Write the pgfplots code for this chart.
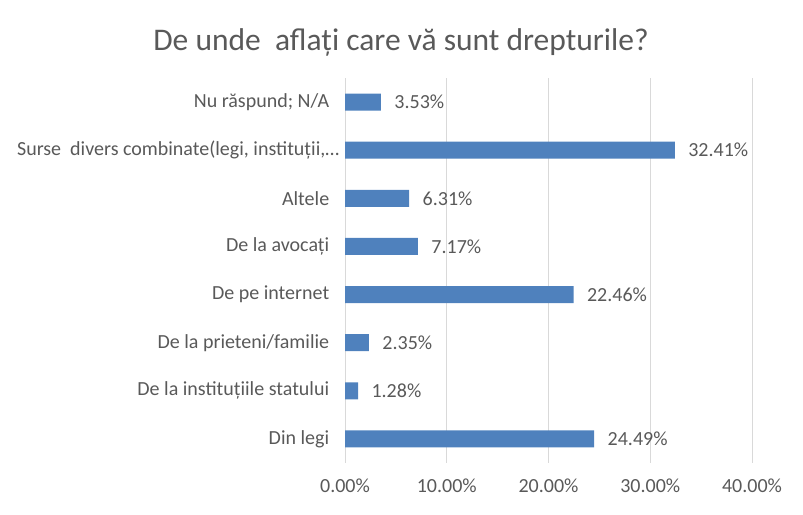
\documentclass[border=0pt]{standalone}
\usepackage{pgfplots}
\pgfplotsset{compat=1.18}
\usepackage{fontspec}
\setmainfont{Carlito}
\definecolor{barblue}{HTML}{4F81BD}
\definecolor{txtgray}{HTML}{595959}
\definecolor{gridgray}{HTML}{D9D9D9}

\pgfplotstableread[col sep=comma]{
pos,val
0,24.49
1,1.28
2,2.35
3,22.46
4,7.17
5,6.31
6,32.41
7,3.53
}\sources

\begin{document}
\begin{tikzpicture}[x=1pt,y=1pt]
\useasboundingbox (0,0) rectangle (803,514);
\begin{axis}[
  at={(345pt,51pt)}, anchor=south west,
  scale only axis, width=407pt, height=385pt,
  xmin=0, xmax=40, ymin=-0.5, ymax=7.5,
  xbar, bar width=17pt, bar shift=0pt,
  axis line style={draw=none},
  xmajorgrids, grid style={gridgray, line width=1pt},
  xtick={0,10,20,30,40},
  xticklabels={0.00\%,10.00\%,20.00\%,30.00\%,40.00\%},
  xtick style={draw=none},
  ytick={0,...,7},
  yticklabels={Din legi, De la instituțiile statului, De la prieteni/familie, De pe internet, De la avocați, Altele, {Surse\ \ divers combinate(legi, instituții,\dots\hspace*{-10pt}}, Nu răspund; N/A},
  ytick style={draw=none},
  minor ytick={-0.5,0.5,...,7.5},
  minor y tick style={gridgray, line width=1pt},
  minor tick length=5pt,
  tick align=outside, ytick pos=left,
  xticklabel style={font=\fontsize{20}{24}\selectfont, text=txtgray, yshift=-8pt},
  yticklabel style={font=\fontsize{20}{24}\selectfont, text=txtgray, xshift=-8pt},
  /pgf/number format/assume math mode=true,
  nodes near coords={\pgfmathprintnumber[fixed,zerofill,precision=2,assume math mode=true]{\pgfplotspointmeta}\%},
  point meta=x,
  nodes near coords style={font=\fontsize{20}{24}\selectfont, text=txtgray, anchor=west, xshift=10pt},
  clip=false,
]
\addplot[fill=barblue, draw=none] table[x=val, y=pos] {\sources};
\end{axis}
\node[text=txtgray, font=\fontsize{31.5}{36}\selectfont] at (401,472) {De unde\ \ aflați care vă sunt drepturile?};
\end{tikzpicture}
\end{document}
